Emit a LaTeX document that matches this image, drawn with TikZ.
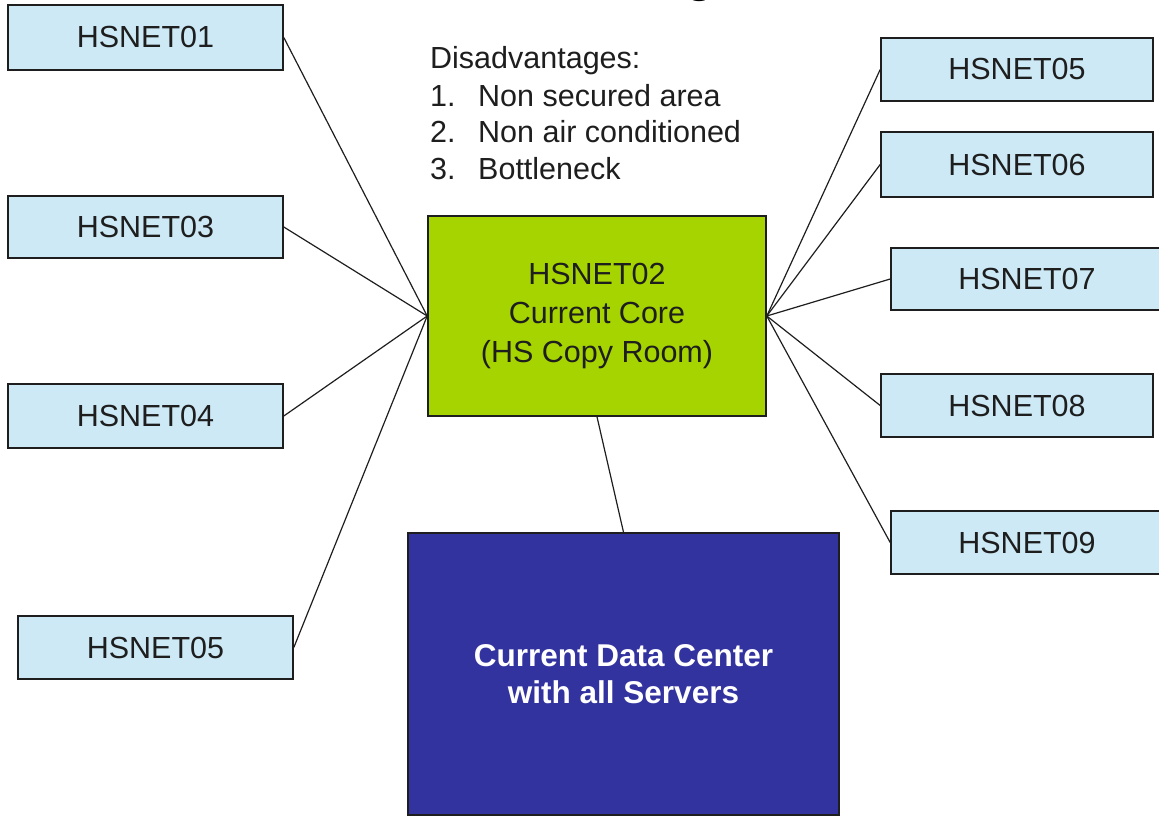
\documentclass[tikz,border=0pt]{standalone}
\usepackage{fontspec}
\setmainfont{Liberation Sans}
\definecolor{hsblue}{RGB}{204,233,245}
\definecolor{coregreen}{RGB}{166,212,0}
\definecolor{dcblue}{RGB}{51,51,160}
\definecolor{ink}{RGB}{30,30,30}
\begin{document}
\begin{tikzpicture}[x=1pt,y=-1pt,
  hs/.style={draw=ink, line width=1.6pt, fill=hsblue, minimum width=275pt, minimum height=63pt,
    inner sep=0pt, font=\fontsize{30.5}{34}\selectfont, text=ink},
  link/.style={draw=ink, line width=1.2pt},
  plain/.style={inner sep=0pt, font=\fontsize{30.5}{37}\selectfont, text=ink, anchor=base west}]
\useasboundingbox (0,0) rectangle (1159,816);
% cut-off title fragment
\begin{scope}
\clip (0,0) rectangle (1159,816);
\node[inner sep=0pt, anchor=base, font=\fontsize{48}{50}\selectfont\bfseries] (title) at (700,-8) {g};
\end{scope}
% left boxes
\node[hs, minimum height=65pt] (h01) at (145.5,37.5) {HSNET01};
\node[hs, minimum height=62pt] (h03) at (145.5,227) {HSNET03};
\node[hs, minimum height=64pt] (h04) at (145.5,416) {HSNET04};
\node[hs] (h05l) at (155.5,647.5) {HSNET05};
% right boxes
\node[hs, minimum width=272pt] (h05r) at (1017,69.5) {HSNET05};
\node[hs, minimum width=272pt, minimum height=65pt] (h06) at (1017,164.5) {HSNET06};
\node[hs, minimum width=272pt, minimum height=62pt] (h07) at (1027,279) {HSNET07};
\node[hs, minimum width=272pt] (h08) at (1017,405.5) {HSNET08};
\node[hs, minimum width=272pt] (h09) at (1027,542.5) {HSNET09};
% core
\node[draw=ink, line width=1.6pt, fill=coregreen, minimum width=338pt, minimum height=200pt,
  inner sep=0pt, align=center, font=\fontsize{30.5}{39}\selectfont, text=ink] (core) at (597,316)
  {HSNET02\\Current Core\\(HS Copy Room)};
% data center
\node[draw=ink, line width=1.6pt, fill=dcblue, minimum width=431pt, minimum height=282pt,
  inner sep=0pt, align=center, font=\fontsize{31.5}{37}\selectfont\bfseries, text=white] (dc) at (623.5,674)
  {Current Data Center\\with all Servers};
% disadvantages
\node[plain] (dis) at (430,69) {Disadvantages:};
\node[plain] (n1) at (430,106) {1.};
\node[plain] (t1) at (478,106) {Non secured area};
\node[plain] (n2) at (430,142) {2.};
\node[plain] (t2) at (478,142) {Non air conditioned};
\node[plain] (n3) at (430,179) {3.};
\node[plain] (t3) at (478,179) {Bottleneck};
% links
\foreach \n in {h01,h03,h04,h05l} \draw[link] (\n.east) -- (core.west);
\foreach \n in {h05r,h06,h07,h08,h09} \draw[link] (\n.west) -- (core.east);
\draw[link] (core.south) -- (dc.north);
\end{tikzpicture}
\end{document}
